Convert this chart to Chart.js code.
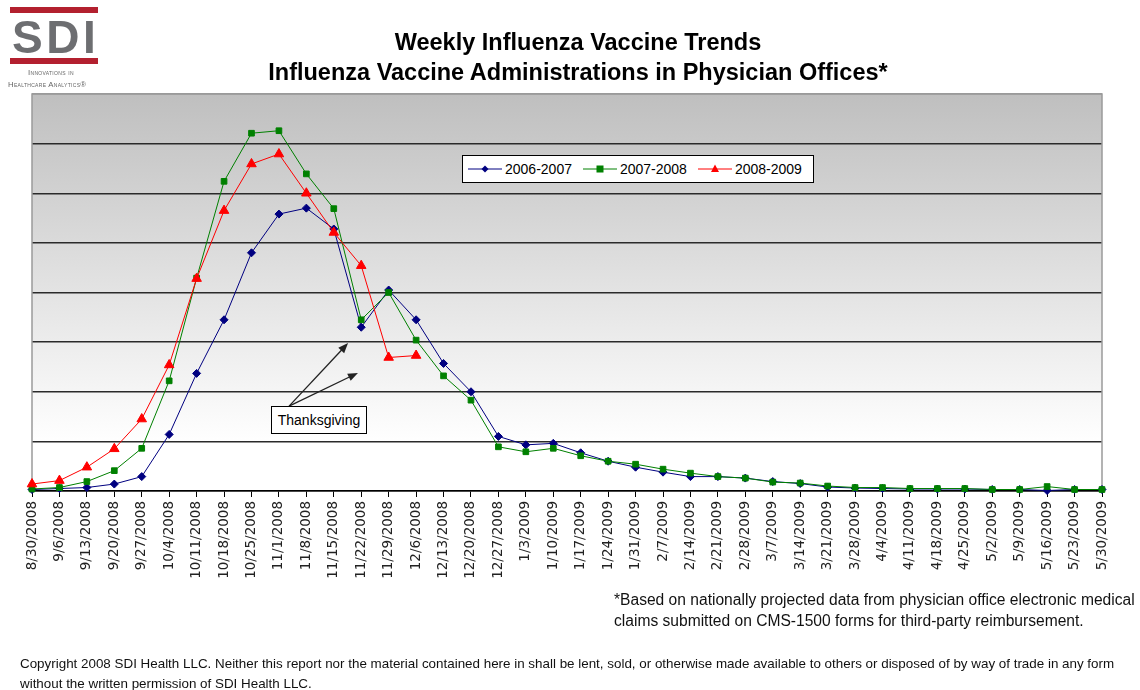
<!DOCTYPE html>
<html>
<head>
<meta charset="utf-8">
<script src="https://cdn.jsdelivr.net/npm/chart.js@4"></script>
<style>
    body { margin: 0; width: 1140px; height: 690px; position: relative; background: #fff; font-family: "Liberation Sans", Arial, sans-serif; overflow: hidden; }
    #chart { position: absolute; left: 0; top: 0; }
    .abs { position: absolute; }
    #title { left: 0; width: 1156px; top: 27px; text-align: center; font-size: 23.5px; font-weight: bold; line-height: 30px; color: #000; }
    #legend { left: 462px; top: 155px; width: 350px; height: 26px; background: #fff; border: 1px solid #000; display: flex; align-items: center; font-size: 14px; }
    #legend span.item { display: flex; align-items: center; margin-left: 5px; margin-right: 6px; }
    #legend svg { margin-right: 3px; }
    #thanks { left: 271px; top: 406px; width: 94px; height: 26px; background: #fff; border: 1px solid #000; font-size: 14px; line-height: 26px; text-align: center; }
    #note { left: 614px; top: 589px; font-size: 15.6px; line-height: 21px; color: #111; white-space: nowrap; }
    #copy { left: 20px; top: 654px; font-size: 13.4px; line-height: 20px; color: #111; white-space: nowrap; }
    #logo .bar { position: absolute; left: 10px; width: 88px; height: 6px; background: #b3202f; }
    #logo .sdi { position: absolute; left: 12px; top: 14px; font-size: 46px; font-weight: bold; color: #6d6e71; letter-spacing: 3.5px; line-height: 46px; }
    #logo .tag { position: absolute; font-size: 7.8px; color: #666; letter-spacing: 0.3px; font-variant: small-caps; white-space: nowrap; }
</style>
</head>
<body>
<canvas id="chart" width="1140" height="690"></canvas>

<div id="logo" class="abs" style="left:0;top:0;width:110px;height:95px;">
    <div class="bar" style="top:7px;"></div>
    <div class="sdi">SDI</div>
    <div class="bar" style="top:58px;"></div>
    <div class="tag" style="left:28px;top:68px;">Innovations in</div>
    <div class="tag" style="left:8px;top:80px;">Healthcare Analytics®</div>
</div>

<div id="title" class="abs">Weekly Influenza Vaccine Trends<br>Influenza Vaccine Administrations in Physician Offices*</div>
<div id="legend" class="abs"></div>
<div id="thanks" class="abs">Thanksgiving</div>
<div id="note" class="abs">*Based on nationally projected data from physician office electronic medical<br>claims submitted on CMS-1500 forms for third-party reimbursement.</div>
<div id="copy" class="abs">Copyright 2008 SDI Health LLC. Neither this report nor the material contained here in shall be lent, sold, or otherwise made available to others or disposed of by way of trade in any form<br>without the written permission of SDI Health LLC.</div>

<script>
// week-ending dates on the x axis
const weeks = [
    "8/30/2008", "9/6/2008", "9/13/2008", "9/20/2008", "9/27/2008", "10/4/2008", "10/11/2008", "10/18/2008",
    "10/25/2008", "11/1/2008", "11/8/2008", "11/15/2008", "11/22/2008", "11/29/2008", "12/6/2008", "12/13/2008",
    "12/20/2008", "12/27/2008", "1/3/2009", "1/10/2009", "1/17/2009", "1/24/2009", "1/31/2009", "2/7/2009",
    "2/14/2009", "2/21/2009", "2/28/2009", "3/7/2009", "3/14/2009", "3/21/2009", "3/28/2009", "4/4/2009",
    "4/11/2009", "4/18/2009", "4/25/2009", "5/2/2009", "5/9/2009", "5/16/2009", "5/23/2009", "5/30/2009"
];

// values (no axis labels in the source, so units are gridline steps)
const season0607 = [
    0.03, 0.05, 0.07, 0.14, 0.29, 1.14, 2.37, 3.45, 4.80, 5.58, 5.70, 5.28, 3.30, 4.05, 3.45, 2.57,
    2.00, 1.10, 0.93, 0.96, 0.77, 0.60, 0.48, 0.38, 0.29, 0.29, 0.26, 0.19, 0.15, 0.08, 0.06, 0.05,
    0.04, 0.04, 0.04, 0.03, 0.03, 0.01, 0.03, 0.03
];
const season0708 = [
    0.04, 0.07, 0.19, 0.41, 0.86, 2.22, 4.29, 6.24, 7.21, 7.26, 6.39, 5.69, 3.45, 4.00, 3.04, 2.32,
    1.83, 0.89, 0.79, 0.86, 0.71, 0.60, 0.54, 0.44, 0.36, 0.29, 0.26, 0.18, 0.16, 0.10, 0.07, 0.07,
    0.05, 0.05, 0.05, 0.03, 0.03, 0.09, 0.03, 0.03
];
const season0809 = [
    0.14, 0.21, 0.48, 0.85, 1.45, 2.54, 4.28, 5.65, 6.59, 6.79, 6.00, 5.21, 4.54, 2.69, 2.73
];

const seriesNames = ["2006-2007", "2007-2008", "2008-2009"];
const seriesColors = ["#000080", "#008000", "#ff0000"];
const yMax = 8;

// Thanksgiving arrows, in data units: [tail index, tail value, tip index, tip value]
const arrows = [
    [9.37, 1.71, 11.52, 2.98],
    [9.37, 1.71, 11.88, 2.38]
];

const font = "'DejaVu Sans', Verdana, sans-serif";

// plot background gradient + grey frame
const plotBackground = {
    id: "plotBackground",
    beforeDraw(chart) {
        const { ctx, chartArea: a } = chart;
        const g = ctx.createLinearGradient(0, a.top, 0, a.bottom);
        g.addColorStop(0, "#bfbfbf");
        g.addColorStop(0.88, "#ffffff");
        g.addColorStop(1, "#ffffff");
        ctx.save();
        ctx.fillStyle = g;
        ctx.fillRect(a.left, a.top, a.right - a.left, a.bottom - a.top);
        ctx.restore();
    },
    beforeDatasetsDraw(chart) {
        const { ctx, chartArea: a } = chart;
        ctx.save();
        ctx.strokeStyle = "#9a9a9a";
        ctx.lineWidth = 1.5;
        ctx.beginPath();
        ctx.moveTo(a.left, a.bottom);
        ctx.lineTo(a.left, a.top);
        ctx.lineTo(a.right, a.top);
        ctx.lineTo(a.right, a.bottom);
        ctx.stroke();
        ctx.restore();
    }
};

const arrowPlugin = {
    id: "arrowPlugin",
    afterDatasetsDraw(chart) {
        const { ctx, scales: { x, y } } = chart;
        ctx.save();
        ctx.strokeStyle = "#222";
        ctx.fillStyle = "#222";
        ctx.lineWidth = 1.3;
        arrows.forEach(([x0, y0, x1, y1]) => {
            const px0 = x.getPixelForValue(x0), py0 = y.getPixelForValue(y0);
            const px1 = x.getPixelForValue(x1), py1 = y.getPixelForValue(y1);
            const ang = Math.atan2(py1 - py0, px1 - px0);
            ctx.beginPath();
            ctx.moveTo(px0, py0);
            ctx.lineTo(px1 - 6 * Math.cos(ang), py1 - 6 * Math.sin(ang));
            ctx.stroke();
            ctx.beginPath();
            ctx.moveTo(px1, py1);
            ctx.lineTo(px1 - 10 * Math.cos(ang) + 4 * Math.sin(ang), py1 - 10 * Math.sin(ang) - 4 * Math.cos(ang));
            ctx.lineTo(px1 - 10 * Math.cos(ang) - 4 * Math.sin(ang), py1 - 10 * Math.sin(ang) + 4 * Math.cos(ang));
            ctx.closePath();
            ctx.fill();
        });
        ctx.restore();
    }
};

const pointStyles = ["rectRot", "rect", "triangle"];
const pointSizes = [4, 4, 5.5];

// legend built by hand so it can sit in a framed box inside the plot
const markerSvg = (i) => {
    const c = seriesColors[i];
    let m;
    if (i === 0) m = `<polygon points="17,1.5 20.5,5 17,8.5 13.5,5" fill="${c}"/>`;
    else if (i === 1) m = `<rect x="13.5" y="1.5" width="7" height="7" fill="${c}"/>`;
    else m = `<polygon points="17,0.5 21,8 13,8" fill="${c}"/>`;
    return `<svg width="34" height="10"><line x1="0" y1="5" x2="34" y2="5" stroke="${c}" stroke-width="1"/>${m}</svg>`;
};
document.getElementById("legend").innerHTML = seriesNames
    .map((n, i) => `<span class="item">${markerSvg(i)}${n}</span>`)
    .join("");

const ctx = document.getElementById("chart").getContext("2d");
new Chart(ctx, {
    type: "line",
    data: {
        labels: weeks,
        datasets: [season0607, season0708, season0809].map((d, i) => ({
            label: seriesNames[i],
            data: d,
            borderColor: seriesColors[i],
            backgroundColor: seriesColors[i],
            pointBackgroundColor: seriesColors[i],
            pointBorderColor: seriesColors[i],
            pointStyle: pointStyles[i],
            pointRadius: pointSizes[i],
            borderWidth: 1,
            tension: 0,
            fill: false,
            clip: false,
            order: 2 - i
        }))
    },
    options: {
        responsive: false,
        animation: false,
        layout: { padding: { left: 32, right: 38, top: 94, bottom: 0 } },
        plugins: {
            legend: { display: false },
            tooltip: { enabled: false }
        },
        scales: {
            x: {
                grid: { drawOnChartArea: false, drawTicks: true, tickLength: 6, color: "#000", lineWidth: 1 },
                border: { color: "#000", width: 1.5 },
                ticks: {
                    autoSkip: false, maxRotation: 90, minRotation: 90, padding: 4,
                    color: "#222", font: { family: font, size: 13.5 }
                },
                afterFit: (s) => { s.height = 199; }
            },
            y: {
                min: 0, max: yMax,
                ticks: { display: false, stepSize: 1 },
                grid: {
                    drawTicks: false, lineWidth: 1.5,
                    color: (c) => (c.tick && c.tick.value === yMax ? "#9a9a9a" : "#2a2a2a")
                },
                border: { display: false },
                afterFit: (s) => { s.width = 0; }
            }
        }
    },
    plugins: [plotBackground, arrowPlugin]
});
</script>
</body>
</html>
